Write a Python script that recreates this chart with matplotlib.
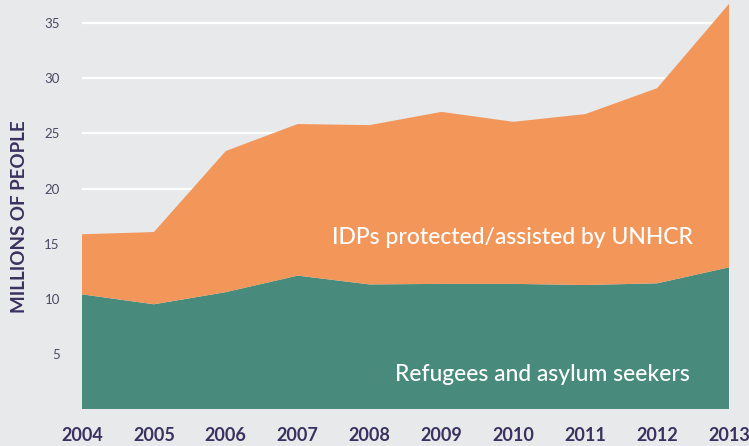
import matplotlib
matplotlib.use("Agg")
from matplotlib import pyplot as plt

years = [2004, 2005, 2006, 2007, 2008, 2009, 2010, 2011, 2012, 2013]
# millions of people
refugees = [10.4, 9.5, 10.6, 12.1, 11.3, 11.35, 11.35, 11.25, 11.4, 12.85]
total = [15.85, 16.05, 23.4, 25.85, 25.75, 26.95, 26.05, 26.75, 29.1, 36.75]
idps = [t - r for t, r in zip(total, refugees)]

bg = "#e8e9ea"
orange = "#f2965a"
green = "#488b7d"
dark = "#3a3160"

plt.rcParams["font.family"] = ["Lato", "DejaVu Sans"]

fig = plt.figure(figsize=(7.49, 4.46), dpi=100, facecolor=bg)
ax = fig.add_axes([82 / 749, 37 / 446, 647 / 749, 409 / 446])
ax.set_facecolor(bg)

ax.stackplot(years, refugees, idps, colors=[green, orange], linewidth=0, zorder=3)
ax.axhline(0, color="white", lw=1.2, zorder=2)

ax.set_xlim(2004, 2013)
ax.set_ylim(0, 37.1)
ax.set_yticks([5, 10, 15, 20, 25, 30, 35])
ax.yaxis.grid(True, color="white", lw=1.6, zorder=1)
ax.set_axisbelow(True)
ax.set_xticks(years)
ax.set_xticklabels([str(y) for y in years], fontsize=13, fontweight="bold", color=dark)
ax.tick_params(axis="x", length=0, pad=13)
ax.tick_params(axis="y", length=0, pad=16, labelsize=9.5, labelcolor="#4e4866")
for s in ax.spines.values():
    s.set_visible(False)

ax.set_ylabel("MILLIONS OF PEOPLE", fontsize=13.5, fontweight="bold", color=dark)
ax.yaxis.set_label_coords(-0.083, 0.47)

ax.text(2012.5, 15.6, "IDPs protected/assisted by UNHCR", color="white",
        fontsize=16.5, fontweight="medium", ha="right", va="center", zorder=4)
ax.text(2012.45, 3.1, "Refugees and asylum seekers", color="white",
        fontsize=16.5, fontweight="medium", ha="right", va="center", zorder=4)

fig.savefig("out.png", dpi=100, facecolor=bg)
